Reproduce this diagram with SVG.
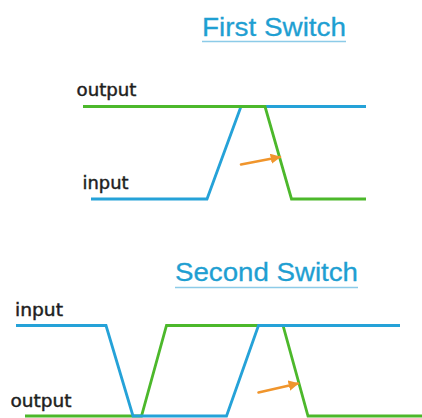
<svg xmlns="http://www.w3.org/2000/svg" width="422" height="418" viewBox="0 0 422 418">
  <style>
    .title { font-family: "Liberation Sans", Arial, sans-serif; font-size: 26px; fill: #1f9fd2; stroke: #1f9fd2; stroke-width: 0.3; }
    .uline { stroke: #8ccbe8; stroke-width: 1.6; }
    .label { font-family: "DejaVu Sans", sans-serif; font-size: 17.5px; fill: #1e1e1e; stroke: #1e1e1e; stroke-width: 0.45; }
    .sig { fill: none; stroke-width: 2.8; stroke-linejoin: miter; stroke-linecap: butt; }
    .in { stroke: #25a2d8; }
    .out { stroke: #4cb82b; }
    .delay { stroke: #f0952c; stroke-width: 2.6; stroke-linecap: round; fill: none; }
  </style>
  <defs>
    <marker id="head" viewBox="0 0 10 10" refX="9" refY="5" markerWidth="4" markerHeight="4" orient="auto" markerUnits="strokeWidth">
      <path d="M0,0 L10,5 L0,10 z" fill="#f0952c"/>
    </marker>
  </defs>
  <rect width="422" height="418" fill="#ffffff"/>

  <!-- First switch: input rises, output falls after a delay -->
  <g id="first-switch">
    <text class="title" x="202" y="36" textLength="144" lengthAdjust="spacingAndGlyphs">First Switch</text>
    <line class="uline" x1="202" y1="41.5" x2="346" y2="41.5"/>
    <text class="label" x="76.5" y="96" textLength="60" lengthAdjust="spacingAndGlyphs">output</text>
    <text class="label" x="82.5" y="188.5" textLength="46" lengthAdjust="spacingAndGlyphs">input</text>
    <polyline class="sig in" points="91,199 207,199 241,106.5 366,106.5"/>
    <polyline class="sig out" points="83,106.5 265,106.5 291.5,199 366,199"/>
    <line class="delay" x1="241" y1="164.5" x2="280" y2="157" marker-end="url(#head)"/>
  </g>

  <!-- Second switch: input falls then rises, output follows -->
  <g id="second-switch">
    <text class="title" x="175" y="281" textLength="183" lengthAdjust="spacingAndGlyphs">Second Switch</text>
    <line class="uline" x1="175" y1="287.5" x2="358" y2="287.5"/>
    <text class="label" x="15" y="316" textLength="48" lengthAdjust="spacingAndGlyphs">input</text>
    <text class="label" x="10.5" y="407" textLength="61" lengthAdjust="spacingAndGlyphs">output</text>
    <polyline class="sig out" points="25,416 141.5,416 166.5,325.5 283,325.5 308,416 422,416"/>
    <polyline class="sig in" points="16,325.5 106,325.5 133,416 226.5,416 258.5,325.5 400,325.5"/>
    <line class="delay" x1="258.5" y1="392.5" x2="298" y2="383.5" marker-end="url(#head)"/>
  </g>
</svg>
